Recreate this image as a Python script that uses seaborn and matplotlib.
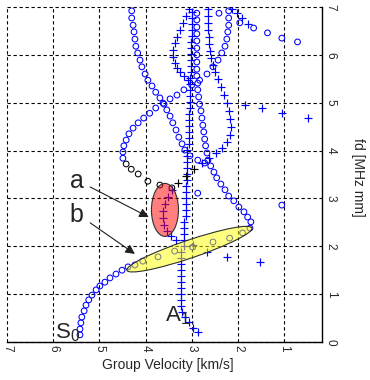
import matplotlib
matplotlib.use("Agg")
import matplotlib.pyplot as plt
import matplotlib.transforms as mtransforms
from matplotlib.patches import Ellipse
import pandas as pd
import seaborn as sns

sns.set_style("white")
plt.rcParams["font.family"] = ["Liberation Sans", "DejaVu Sans"]
plt.rcParams["mathtext.default"] = "regular"

BLUE = "#0000ff"

# group velocity [km/s] / fd [MHz mm]
# S0: lower branch, minimum near 1.7 km/s, then up towards Rayleigh speed
s0_vg = [5.42, 5.42, 5.40, 5.38, 5.33, 5.29, 5.23, 5.16, 5.07, 4.99, 4.88, 4.77,
         4.64, 4.51, 4.38, 4.23, 4.06, 3.73, 3.37, 2.98, 2.54, 2.18, 1.90, 1.74,
         1.72, 1.79, 1.87, 1.98, 2.09, 2.20, 2.28, 2.37, 2.46, 2.52, 2.59,
         2.65, 2.67, 2.70, 2.72, 2.74, 2.76, 2.78, 2.80, 2.83, 2.85, 2.87, 2.87,
         2.89, 2.89, 2.89, 2.89, 2.89, 2.89, 2.89, 2.89, 2.89, 2.89]
s0_fd = [0.15, 0.27, 0.40, 0.52, 0.65, 0.77, 0.88, 0.98, 1.09, 1.17, 1.25, 1.34,
         1.42, 1.50, 1.57, 1.61, 1.69, 1.78, 1.90, 1.98, 2.09, 2.17, 2.28, 2.38,
         2.51, 2.61, 2.72, 2.82, 2.95, 3.05, 3.18, 3.30, 3.43, 3.55, 3.68,
         3.80, 3.95, 4.10, 4.24, 4.39, 4.53, 4.68, 4.83, 4.97, 5.12, 5.27, 5.41,
         5.56, 5.70, 5.85, 6.00, 6.14, 6.29, 6.44, 6.58, 6.73, 6.87]

# circle branch crossing S0 and running to the upper left
arm_vg = [2.72, 2.87, 3.04, 3.15, 3.21, 3.28, 3.34, 3.41, 3.47, 3.54, 3.60, 3.69,
          3.78, 3.86, 3.95, 4.01, 4.08, 4.12, 4.17, 4.21, 4.23, 4.25, 4.27, 4.30, 4.30]
arm_fd = [3.74, 3.80, 3.89, 4.01, 4.14, 4.28, 4.43, 4.58, 4.72, 4.85, 4.97, 5.10,
          5.22, 5.35, 5.47, 5.60, 5.75, 5.89, 6.04, 6.18, 6.33, 6.48, 6.62, 6.77, 6.92]

# circle loop on the left (first points drawn black)
loopk_vg = [3.43, 3.69, 3.95, 4.16, 4.31, 4.42]
loopk_fd = [3.22, 3.28, 3.36, 3.51, 3.61, 3.72]
loop_vg = [4.49, 4.49, 4.47, 4.42, 4.36, 4.27, 4.16, 4.04, 3.91, 3.78, 3.62, 3.47,
           3.32, 3.17, 3.00, 2.83, 2.67, 2.54, 2.43, 2.35, 2.28, 2.24, 2.22, 2.20,
           2.20, 2.20]
loop_fd = [3.84, 3.97, 4.10, 4.22, 4.35, 4.47, 4.58, 4.68, 4.78, 4.89, 4.99, 5.08,
           5.16, 5.27, 5.37, 5.47, 5.60, 5.75, 5.89, 6.04, 6.18, 6.33, 6.48, 6.62,
           6.77, 6.92]

# isolated circles
odd_vg = [2.41, 1.96, 1.66, 1.36, 1.05, 0.71, 2.87, 1.05]
odd_fd = [6.87, 6.67, 6.56, 6.46, 6.35, 6.27, 3.11, 2.86]

# antisymmetric branches (plus markers)
a0_vg = [2.87, 2.97, 3.06, 3.15, 3.21,
         3.23, 3.23, 3.23, 3.23, 3.23, 3.23, 3.23, 3.23, 3.23, 3.23,
         3.17, 3.17, 3.17, 3.17, 3.17,
         3.13, 3.13, 3.13, 3.13, 3.13, 3.13,
         3.11, 3.11, 3.11, 3.11, 3.11, 3.11,
         3.06, 3.06, 3.06, 3.06, 3.06, 3.06,
         3.04, 3.04, 3.04, 3.04, 3.04, 3.04,
         3.02, 3.02, 3.02, 3.02, 3.02, 3.02,
         3.00, 3.00, 3.00, 3.00, 3.00]
a0_fd = [0.21, 0.29, 0.42, 0.52, 0.63,
         0.75, 0.88, 1.00, 1.13, 1.25, 1.38, 1.50, 1.63, 1.76, 1.88,
         2.01, 2.13, 2.26, 2.38, 2.51,
         2.63, 2.76, 2.88, 3.01, 3.13, 3.26,
         3.38, 3.51, 3.64, 3.76, 3.89, 4.01,
         4.14, 4.26, 4.39, 4.51, 4.64, 4.76,
         4.89, 5.01, 5.14, 5.27, 5.39, 5.52,
         5.64, 5.77, 5.89, 6.02, 6.14, 6.27,
         6.39, 6.52, 6.64, 6.77, 6.90]

bow_vg = [3.06, 3.13, 3.19, 3.26, 3.32, 3.37, 3.41, 3.41, 3.37, 3.32, 3.26, 3.17, 3.08]
bow_fd = [6.96, 6.81, 6.67, 6.52, 6.37, 6.25, 6.10, 5.95, 5.83, 5.73, 5.64, 5.56, 5.47]

a1_top_vg = [2.65, 2.65, 2.65, 2.65, 2.63, 2.63, 2.61, 2.59, 2.54, 2.50, 2.44, 2.37,
             2.30, 2.24, 2.20, 2.18, 2.15, 2.18, 2.24, 2.35, 2.48, 2.63, 2.78]
a1_top_fd = [6.96, 6.81, 6.67, 6.52, 6.37, 6.23, 6.08, 5.93, 5.79, 5.64, 5.50, 5.33,
             5.16, 4.99, 4.83, 4.66, 4.49, 4.33, 4.18, 4.05, 3.95, 3.84, 3.74]
a1_k_vg = [2.95, 3.13, 3.30]
a1_k_fd = [3.61, 3.47, 3.32]
a1_low_vg = [3.43, 3.51, 3.58, 3.63, 3.63, 3.60, 3.54, 3.45, 3.34, 2.98, 2.67, 2.24, 1.53]
a1_low_fd = [3.18, 3.03, 2.88, 2.74, 2.59, 2.44, 2.32, 2.21, 2.13, 2.03, 1.88, 1.78, 1.67]

mid_vg = [1.85, 1.48, 1.05, 0.49]
mid_fd = [4.95, 4.89, 4.78, 4.68]
top_vg = [2.13, 2.03, 1.92, 1.79]
top_fd = [6.96, 6.87, 6.77, 6.64]

fig = plt.figure(figsize=(3.7, 3.8), dpi=100)
ax = fig.add_axes([7 / 370, 38 / 380, 315 / 370, 335 / 380])
ax.set_xlim(7, 0.18)
ax.set_ylim(0, 7)


def circles(vg, fd, color=BLUE):
    df = pd.DataFrame({"vg": vg, "fd": fd})
    sns.scatterplot(data=df, x="vg", y="fd", ax=ax, marker="o", s=17,
                    facecolor="none", edgecolor=color, linewidth=0.75, zorder=3)


def crosses(vg, fd, color=BLUE):
    df = pd.DataFrame({"vg": vg, "fd": fd})
    sns.scatterplot(data=df, x="vg", y="fd", ax=ax, marker="+", s=36,
                    color=color, linewidth=0.85, zorder=3)


circles(s0_vg, s0_fd)
circles(arm_vg, arm_fd)
circles(loop_vg, loop_fd)
circles(loopk_vg, loopk_fd, "k")
circles(odd_vg, odd_fd)
crosses(a0_vg, a0_fd)
crosses(bow_vg, bow_fd)
crosses(a1_top_vg, a1_top_fd)
crosses(a1_k_vg, a1_k_fd, "k")
crosses(a1_low_vg, a1_low_fd)
crosses(mid_vg, mid_fd)
crosses(top_vg, top_fd)


def blob(vg, fd, w, h, angle, face):
    # size in inches, centred on a data point
    tr = fig.dpi_scale_trans + mtransforms.ScaledTranslation(vg, fd, ax.transData)
    ax.add_patch(Ellipse((0, 0), w, h, angle=angle, transform=tr, facecolor=face,
                         edgecolor="#303030", linewidth=0.8, zorder=5))


blob(3.58, 2.76, 0.27, 0.53, 0, (1, 0, 0, 0.5))
blob(3.05, 1.94, 1.32, 0.18, 18.7, (1, 1, 0, 0.5))

arrow = dict(arrowstyle="-|>", color="#202020", lw=0.8, mutation_scale=14,
             shrinkA=0, shrinkB=0)
ax.annotate("", xy=(3.93, 2.61), xytext=(5.20, 3.24), arrowprops=arrow, zorder=6)
ax.annotate("", xy=(4.23, 1.84), xytext=(5.20, 2.49), arrowprops=arrow, zorder=6)
ax.text(5.48, 3.22, "a", fontsize=18, ha="center", va="baseline")
ax.text(5.50, 2.51, "b", fontsize=18, ha="center", va="baseline")
ax.text(5.96, 0.08, "S$_0$", fontsize=16, ha="left", va="baseline")
ax.text(3.58, 0.44, "A$_1$", fontsize=16, ha="left", va="baseline")

ax.set_xticks(range(1, 8))
ax.set_yticks(range(0, 8))
ax.grid(True, color="k", linestyle=(0, (3, 2.4)), linewidth=0.8)
for line in ax.get_xgridlines() + ax.get_ygridlines():
    line.set_clip_on(False)
ax.spines["top"].set_visible(False)
ax.spines["left"].set_visible(False)
for side in ["right", "bottom"]:
    ax.spines[side].set_color("k")
    ax.spines[side].set_linewidth(1.0)
ax.yaxis.tick_right()
ax.tick_params(length=0, labelsize=8.5, pad=2)
plt.setp(ax.get_xticklabels(), rotation=270, ha="center", va="top")
plt.setp(ax.get_yticklabels(), rotation=270, ha="left", va="center")

ax.set_xlabel("Group Velocity [km/s]", fontsize=10)
ax.xaxis.set_label_coords(0.511, -0.048)
ax.yaxis.set_label_position("right")
ax.set_ylabel("fd [MHz mm]", fontsize=10, rotation=270, va="center")
ax.yaxis.set_label_coords(1.114, 0.4925)

fig.savefig("out.png", dpi=100)
plt.close(fig)
